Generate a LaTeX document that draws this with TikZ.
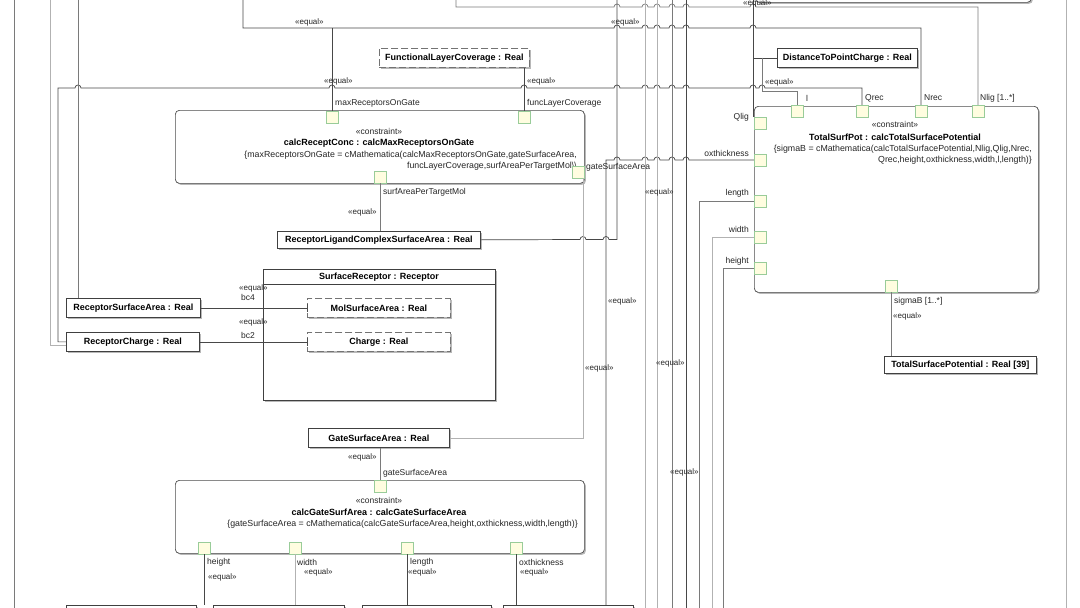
\documentclass[tikz,border=0pt]{standalone}
\usepackage{fontspec}
\setmainfont{Liberation Sans}
\usetikzlibrary{shadows}
\newcommand{\hops}[2]{\foreach \hx in {#2}{ -- (\hx-3,#1) arc[start angle=180,end angle=0,radius=3pt] }}
\begin{document}
\begin{tikzpicture}[x=1pt,y=-1pt,
  c1/.style={draw=black!72, line width=0.7pt},
  c2/.style={draw=black!52, line width=0.7pt},
  c3/.style={draw=black!30, line width=0.7pt},
  shd/.style={drop shadow={shadow xshift=1.5pt,shadow yshift=-1.5pt,fill=black!28,opacity=1}},
  valbox/.style={draw=black!75, fill=white, line width=0.7pt, inner sep=0pt, anchor=north west, font=\fontsize{9}{10}\selectfont\bfseries, shd},
  refbox/.style={valbox, draw=black!55, dash pattern=on 7pt off 3pt},
  cbox/.style={draw=black!70, fill=white, line width=0.7pt, rounded corners=4pt, anchor=north west, inner sep=0pt, shd},
  port/.style={draw=green!50!black!40, fill=yellow!12, line width=0.5pt, minimum size=12pt, inner sep=0pt},
  lbl/.style={font=\fontsize{8.5}{10}\selectfont, inner sep=0pt, text=black!85},
  fml/.style={font=\fontsize{8.8}{10}\selectfont, inner sep=0pt, text=black!85, anchor=east},
  eq/.style={font=\fontsize{8}{9}\selectfont, inner sep=0pt, text=black!85, anchor=west},
  bold/.style={font=\fontsize{9}{10}\selectfont\bfseries, inner sep=0pt},
]
\useasboundingbox (0,0) rectangle (1080,608);
\fill[white] (0,0) rectangle (1080,608);
\clip (0,0) rectangle (1080,608);

% ---------- nodes ----------
\node[cbox, minimum width=276pt, minimum height=24pt] (topbox) at (755,-22) {};
\node[refbox, minimum width=150pt, minimum height=19pt] (flc) at (379,48) {FunctionalLayerCoverage : Real};
\node[valbox, minimum width=140pt, minimum height=19pt] (dtpc) at (777,48) {DistanceToPointCharge : Real};
\node[cbox, minimum width=409pt, minimum height=73pt] (crc) at (175,110) {};
\node[cbox, minimum width=284pt, minimum height=186pt] (tsp) at (754,106) {};
\node[valbox, minimum width=203pt, minimum height=17pt] (rlcsa) at (277,231) {ReceptorLigandComplexSurfaceArea : Real};
\node[valbox, minimum width=232pt, minimum height=131pt] (sr) at (263,269) {};
\node[valbox, minimum width=134pt, minimum height=19pt] (rsa) at (66,298) {ReceptorSurfaceArea : Real};
\node[valbox, minimum width=133pt, minimum height=19pt] (rc) at (66,332) {ReceptorCharge : Real};
\node[refbox, minimum width=143pt, minimum height=19pt] (molsa) at (307,298) {MolSurfaceArea : Real};
\node[refbox, minimum width=143pt, minimum height=19pt] (chg) at (307,332) {Charge : Real};
\node[valbox, minimum width=152pt, minimum height=17pt] (tspr) at (884,356) {TotalSurfacePotential : Real [39]};
\node[valbox, minimum width=141pt, minimum height=19pt] (gsa) at (308,428) {GateSurfaceArea : Real};
\node[cbox, minimum width=409pt, minimum height=73pt] (cgsa) at (175,480) {};
\node[valbox, minimum width=130pt, minimum height=25pt] (bb1) at (66,605) {};
\node[valbox, minimum width=131pt, minimum height=25pt] (bb2) at (213,605) {};
\node[valbox, minimum width=129pt, minimum height=25pt] (bb3) at (362,605) {};
\node[valbox, minimum width=130pt, minimum height=25pt] (bb4) at (503,605) {};

% SurfaceReceptor title
\node[bold] (srt) at (379,277) {SurfaceReceptor : Receptor};
\draw[black!75, line width=0.7pt] ([yshift=-15pt]sr.north west) -- ([yshift=-15pt]sr.north east);

% constraint texts
\node[lbl] (k1) at (379,131) {«constraint»};
\node[bold] (n1) at (379,143) {calcReceptConc : calcMaxReceptorsOnGate};
\node[fml] (f1a) at (577,155) {\{maxReceptorsOnGate = cMathematica(calcMaxReceptorsOnGate,gateSurfaceArea,};
\node[fml] (f1b) at (577,166) {funcLayerCoverage,surfAreaPerTargetMol\textbackslash\textbackslash};
\node[lbl] (k2) at (895,124) {«constraint»};
\node[bold] (n2) at (895,137) {TotalSurfPot : calcTotalSurfacePotential};
\node[fml] (f2a) at (1032,149) {\{sigmaB = cMathematica(calcTotalSurfacePotential,Nlig,Qlig,Nrec,};
\node[fml] (f2b) at (1032,160) {Qrec,height,oxthickness,width,l,length)\}};
\node[lbl] (k3) at (379,500) {«constraint»};
\node[bold] (n3) at (379,512) {calcGateSurfArea : calcGateSurfaceArea};
\node[fml] (f3) at (578,524) {\{gateSurfaceArea = cMathematica(calcGateSurfaceArea,height,oxthickness,width,length)\}};

% ports
\node[port] (pMaxR) at (332,117) {};
\node[port] (pFunc) at (524,117) {};
\node[port] (pSA) at (380,177) {};
\node[port] (pGS1) at (578,172) {};
\node[port] (pl) at (797,111) {};
\node[port] (pQrec) at (862,111) {};
\node[port] (pNrec) at (921,111) {};
\node[port] (pNlig) at (978,111) {};
\node[port] (pQlig) at (760,123) {};
\node[port] (pTox) at (760,160) {};
\node[port] (pTlen) at (760,201) {};
\node[port] (pTwid) at (760,237) {};
\node[port] (pThei) at (760,268) {};
\node[port] (pSig) at (891,286) {};
\node[port] (pGS2) at (380,486) {};
\node[port] (pH) at (204,548) {};
\node[port] (pW) at (295,548) {};
\node[port] (pL) at (407,548) {};
\node[port] (pOx) at (516,548) {};

% ---------- frame ----------
\draw[c2] (14,0) -- (14,608);
\draw[c3] (1066,0) -- (1066,608);

% ---------- connectors ----------
\draw[c1] (rc.west) -| (58,88) \hops{88}{78,332,524,617,645,657,672,686,753,762} -- (862,88) -- (pQrec.north);
\draw[c3] ([yshift=-3pt]rc.west) -| (50,0);
\draw[c2] ([xshift=12pt]rsa.north west) -- (78,0);
\draw[c1] (243,0) -- (243,28) \hops{28}{617,645,657,672,686,753} -- (921,28) -- (pNrec.north);
\draw[c1] (pMaxR.north) -- (332,28);
\draw[c2] (456,0) -- (456,7) \hops{7}{617,645,657,672,686,753} -- (978,7) -- (pNlig.north);
\draw[c1] (rlcsa.east) \hops{239.5}{583,606} -- (617,239.5) -- (617,0);
\draw[c1] (pFunc.north) -- (pFunc.north |- flc.south);
\draw[c2] (pSA.south) -- (pSA.south |- rlcsa.north);
\draw[c2] (pGS2.north) -- (pGS2.north |- gsa.south);
\draw[c3] (gsa.east) -| ([xshift=5pt]pGS1.south);
\draw[c1] ([xshift=103pt]bb4.north west) -- (606,160) \hops{160}{617,645,657,672,686} -- (pTox.west);
\draw[c2] (pTlen.west) -| (699,608);
\draw[c3] (pTwid.west) -| (712,608);
\draw[c2] (pThei.west) -| (723,608);
\draw[c3] (645,0) -- (645,608);
\draw[c3] (657,0) -- (657,608);
\draw[c2] (672,0) -- (672,608);
\draw[c1] (686,0) -- (686,608);
\draw[c1] (753,0) |- (dtpc.west);
\draw[c1] (753,57.5) -- (pQlig.north west -| 753,0);
\draw[c2] (762,57.5) -- (762,91) -| (pl.north);
\draw[c2] (pSig.south) -- (pSig.south |- tspr.north);
\draw[c1] (rsa.east) -- (molsa.west);
\draw[c1] (rc.east) -- (chg.west);
\draw[black!70, line width=0.7pt] ([yshift=4pt]molsa.west) -- ([yshift=-4pt]molsa.west);
\draw[black!70, line width=0.7pt] ([yshift=4pt]chg.west) -- ([yshift=-4pt]chg.west);
\draw[c1] (pH.south) -- (pH.south |- bb1.north);
\draw[c3] (pW.south) -- (pW.south |- bb2.north);
\draw[c1] (pL.south) -- (pL.south |- bb3.north);
\draw[c1] (pOx.south) -- (pOx.south |- bb4.north);

% ---------- labels ----------
\node[eq] at (295,22) {«equal»};
\node[eq] at (324,81) {«equal»};
\node[eq] at (527,81) {«equal»};
\node[eq] at (611,22) {«equal»};
\node[eq] at (743,3) {«equal»};
\node[eq] at (765,82) {«equal»};
\node[eq] at (348,212) {«equal»};
\node[eq] at (645,192) {«equal»};
\node[eq] at (608,301) {«equal»};
\node[eq] at (585,368) {«equal»};
\node[eq] at (656,363) {«equal»};
\node[eq] at (670,472) {«equal»};
\node[eq] at (348,457) {«equal»};
\node[eq] at (893,316) {«equal»};
\node[eq] at (239,288) {«equal»};
\node[eq] at (239,322) {«equal»};
\node[eq] at (208,577) {«equal»};
\node[eq] at (304,572) {«equal»};
\node[eq] at (408,572) {«equal»};
\node[eq] at (520,572) {«equal»};

\node[lbl, anchor=west] at (335,103) {maxReceptorsOnGate};
\node[lbl, anchor=west] at (527,103) {funcLayerCoverage};
\node[lbl, anchor=west] at (383,192) {surfAreaPerTargetMol};
\node[lbl, anchor=west] at (586,167) {gateSurfaceArea};
\node[lbl, anchor=west] at (383,473) {gateSurfaceArea};
\node[lbl, anchor=west] at (806,98) {l};
\node[lbl, anchor=west] at (865,98) {Qrec};
\node[lbl, anchor=west] at (924,98) {Nrec};
\node[lbl, anchor=west] at (980,98) {Nlig [1..*]};
\node[lbl, anchor=east] at (749,117) {Qlig};
\node[lbl, anchor=east] at (749,153) {oxthickness};
\node[lbl, anchor=east] at (749,193) {length};
\node[lbl, anchor=east] at (749,229) {width};
\node[lbl, anchor=east] at (749,261) {height};
\node[lbl, anchor=west] at (894,301) {sigmaB [1..*]};
\node[lbl, anchor=west] at (207,562) {height};
\node[lbl, anchor=west] at (297,562) {width};
\node[lbl, anchor=west] at (410,562) {length};
\node[lbl, anchor=west] at (519,562) {oxthickness};
\node[lbl, anchor=west] at (241,297) {bc4};
\node[lbl, anchor=west] at (241,335) {bc2};
\end{tikzpicture}
\end{document}
